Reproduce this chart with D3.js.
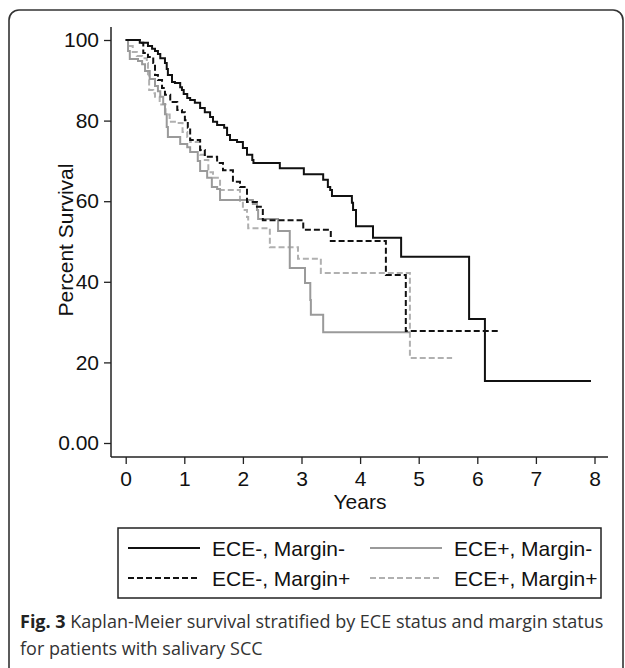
<!DOCTYPE html>
<html>
<head>
<meta charset="utf-8">
<script src="https://d3js.org/d3.v7.min.js"></script>
<style>
    body {margin: 0; background: #fff;}
    svg text {font-family: "Liberation Sans", Arial, sans-serif; fill: #111;}
</style>
</head>
<body>
<div id="chart"></div>
<script>
    // survival steps (years, percent)
    var negNegTimes = [0,0.24,0.38,0.45,0.50,0.55,0.59,0.67,0.70,0.72,0.79,0.84,0.93,0.96,0.99,1.05,1.10,1.18,1.27,1.35,1.44,1.49,1.56,1.68,1.73,1.78,1.90,2.00,2.07,2.16,2.18,2.63,3.04,3.37,3.45,3.49,3.52,3.86,3.88,3.93,4.22,4.70,5.86,6.13,7.94];
    var negNegSurv = [100,99.3,98.5,97.8,97.3,96.5,95.5,94.3,92.8,91.3,89.6,89.3,88.3,87.6,86.6,85.6,85.1,84.4,83.1,82.1,80.9,79.7,78.9,78.2,76.4,75.2,74.7,73.2,71.5,70.2,69.5,68.2,66.7,65.3,63.5,62.8,61.3,59.6,57.8,53.8,50.9,46.2,30.8,15.4,15.4];

    var negPosTimes = [0,0.24,0.30,0.38,0.47,0.50,0.55,0.62,0.67,0.76,0.88,0.96,1.01,1.06,1.10,1.27,1.35,1.56,1.66,1.83,1.95,2.07,2.24,2.34,3.03,3.50,4.44,4.78,6.35];
    var negPosSurv = [100,99.3,96.8,95.8,94.3,91.3,90.1,88.1,86.4,84.6,82.6,82.1,80.1,78.2,75.2,72.7,71.0,69.5,67.7,64.8,63.5,59.8,58.6,55.3,52.9,50.1,41.7,27.8,27.8];

    var posNegTimes = [0,0.04,0.07,0.21,0.28,0.33,0.41,0.50,0.55,0.59,0.64,0.67,0.70,0.72,0.93,1.05,1.10,1.23,1.27,1.39,1.47,1.56,1.61,2.17,2.24,2.26,2.60,2.80,3.06,3.15,3.16,3.37,4.85];
    var posNegSurv = [100,97.3,95.3,94.8,94.0,92.3,90.3,88.6,87.3,85.9,84.1,81.6,78.4,75.9,74.2,73.4,72.2,70.0,67.5,65.8,63.5,63.0,60.3,59.3,57.8,55.6,52.6,43.4,39.7,35.5,31.8,27.5,27.5];

    var posPosTimes = [0,0.04,0.12,0.19,0.28,0.36,0.38,0.40,0.47,0.50,0.58,0.68,0.75,0.88,0.97,1.05,1.10,1.27,1.35,1.41,1.49,1.61,1.95,2.00,2.07,2.09,2.46,2.94,3.33,4.85,5.57];
    var posPosSurv = [100,98.5,97.0,96.0,95.5,94.3,91.5,87.6,86.8,85.9,84.0,81.5,79.7,79.4,77.2,75.9,74.7,71.5,70.2,67.2,65.8,62.8,59.6,57.8,56.1,53.3,48.6,45.7,42.2,21.1,21.1];

    var groupNames = ["ECE-, Margin-", "ECE-, Margin+", "ECE+, Margin-", "ECE+, Margin+"];
    var xTicks = [0,1,2,3,4,5,6,7,8];
    var yTicks = [0,20,40,60,80,100];

    var width = 625, height = 668;

    var svg = d3.select("#chart").append("svg")
        .attr("width", width)
        .attr("height", height);

    // figure frame
    svg.append("rect")
        .attr("x", 9).attr("y", 10)
        .attr("width", 614).attr("height", 700)
        .attr("rx", 10)
        .attr("fill", "none")
        .attr("stroke", "#333")
        .attr("stroke-width", 1.6);

    var x = d3.scaleLinear().domain([0, 8]).range([125.7, 594.5]);
    var y = d3.scaleLinear().domain([0, 100]).range([443, 40]);

    var axisX = 111, axisY = 457;

    // y axis
    var gy = svg.append("g")
        .attr("transform", "translate(" + axisX + ",0)")
        .call(d3.axisLeft(y).tickValues(yTicks).tickSize(7).tickPadding(5)
            .tickFormat(function(d){ return d === 0 ? "0.00" : d; }));
    gy.select(".domain").remove();
    gy.append("line").attr("y1", 27).attr("y2", axisY).attr("stroke", "#222").attr("stroke-width", 1.5);

    // x axis
    var gx = svg.append("g")
        .attr("transform", "translate(0," + axisY + ")")
        .call(d3.axisBottom(x).tickValues(xTicks).tickSize(7).tickPadding(7));
    gx.select(".domain").remove();
    gx.append("line").attr("x1", axisX).attr("x2", 608).attr("stroke", "#222").attr("stroke-width", 1.5);

    svg.selectAll(".tick line").attr("stroke", "#222").attr("stroke-width", 1.3);
    svg.selectAll(".tick text")
        .attr("font-size", 21)
        .attr("font-family", "Liberation Sans, Arial, sans-serif")
        .attr("fill", "#111");

    svg.append("text")
        .attr("x", 360).attr("y", 509)
        .attr("text-anchor", "middle")
        .attr("font-size", 21)
        .text("Years");

    svg.append("text")
        .attr("transform", "translate(73,240) rotate(-90)")
        .attr("text-anchor", "middle")
        .attr("font-size", 21)
        .text("Percent Survival");

    var series = [
        {name: groupNames[0], t: negNegTimes, s: negNegSurv, color: "#111", dash: null},
        {name: groupNames[1], t: negPosTimes, s: negPosSurv, color: "#111", dash: "6,3"},
        {name: groupNames[2], t: posNegTimes, s: posNegSurv, color: "#9a9a9a", dash: null},
        {name: groupNames[3], t: posPosTimes, s: posPosSurv, color: "#b0b0b0", dash: "6,3"}
    ];

    var stepLine = d3.line()
        .curve(d3.curveStepAfter)
        .x(function(d){ return x(d[0]); })
        .y(function(d){ return y(d[1]); });

    // grey curves underneath the black ones
    [3, 2, 1, 0].forEach(function(i) {
        var s = series[i];
        svg.append("path")
            .datum(d3.zip(s.t, s.s))
            .attr("fill", "none")
            .attr("stroke", s.color)
            .attr("stroke-width", 2)
            .attr("stroke-dasharray", s.dash)
            .attr("d", stepLine);
    });

    // legend
    svg.append("rect")
        .attr("x", 118).attr("y", 528)
        .attr("width", 483).attr("height", 70)
        .attr("fill", "none")
        .attr("stroke", "#222")
        .attr("stroke-width", 1.5);

    var legendPos = [
        {lx: 128, ty: 548}, {lx: 128, ty: 578},
        {lx: 370, ty: 548}, {lx: 370, ty: 578}
    ];
    series.forEach(function(s, i) {
        var p = legendPos[i];
        svg.append("line")
            .attr("x1", p.lx).attr("x2", p.lx + 72)
            .attr("y1", p.ty).attr("y2", p.ty)
            .attr("stroke", s.color)
            .attr("stroke-width", 2)
            .attr("stroke-dasharray", s.dash);
        svg.append("text")
            .attr("x", p.lx + 84).attr("y", p.ty + 7.5)
            .attr("font-size", 21)
            .text(s.name);
    });

    // caption
    var cap = svg.append("text")
        .attr("x", 20).attr("y", 628)
        .attr("font-size", 18)
        .style("font-family", "'Open Sans', sans-serif");
    cap.append("tspan").attr("font-weight", "bold").style("fill", "#222").text("Fig. 3");
    cap.append("tspan").style("fill", "#333").text(" Kaplan-Meier survival stratified by ECE status and margin status");

    svg.append("text")
        .attr("x", 20).attr("y", 655)
        .attr("font-size", 18)
        .style("font-family", "'Open Sans', sans-serif")
        .style("fill", "#333")
        .text("for patients with salivary SCC");
</script>
</body>
</html>
